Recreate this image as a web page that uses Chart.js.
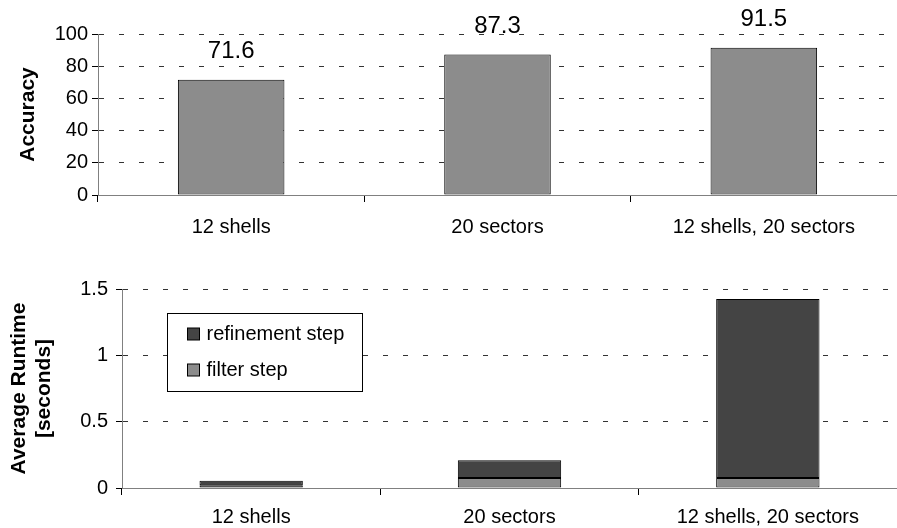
<!DOCTYPE html>
<html>
<head>
<meta charset="utf-8">
<script src="https://cdn.jsdelivr.net/npm/chart.js@4.4.0/dist/chart.umd.min.js"></script>
<style>
    html, body { margin: 0; padding: 0; background: #fff; }
    .panel { position: absolute; left: 0; width: 897px; }
    #accuracyBox { top: 0; height: 250px; }
    #runtimeBox { top: 250px; height: 278px; }
</style>
</head>
<body>
<div class="panel" id="accuracyBox"><canvas id="accuracy"></canvas></div>
<div class="panel" id="runtimeBox"><canvas id="runtime"></canvas></div>
<script>
const categories = ['12 shells', '20 sectors', '12 shells, 20 sectors']
const accuracy = [71.6, 87.3, 91.5]
const filterStep = [0.02, 0.075, 0.075]
const refinementStep = [0.035, 0.135, 1.35]
const accuracyTicks = [0, 20, 40, 60, 80, 100]
const runtimeTicks = [0, 0.5, 1, 1.5]

const FONT = "'Liberation Sans', Arial, sans-serif"
Chart.defaults.font.family = FONT
Chart.defaults.font.size = 20
Chart.defaults.color = '#000'

// number written above each accuracy bar
const valueLabels = {
    id: 'valueLabels',
    afterDatasetsDraw(chart) {
        const ctx = chart.ctx
        const ds = chart.data.datasets[0]
        ctx.save()
        ctx.font = '24px ' + FONT
        ctx.fillStyle = '#000'
        ctx.textAlign = 'center'
        ctx.textBaseline = 'middle'
        chart.getDatasetMeta(0).data.forEach((bar, i) => {
            ctx.fillText(ds.data[i], bar.x, bar.y - 28)
        })
        ctx.restore()
    }
}

// boxed legend sitting inside the plot area
const boxLegend = {
    id: 'boxLegend',
    afterDatasetsDraw(chart) {
        const {ctx, chartArea} = chart
        const x = Math.round(chartArea.left + 45) + 0.5
        const y = Math.round(chartArea.top + 24) + 0.5
        ctx.save()
        ctx.fillStyle = '#fff'
        ctx.fillRect(x, y, 195, 78)
        ctx.strokeStyle = '#000'
        ctx.lineWidth = 1
        ctx.strokeRect(x, y, 195, 78)
        ctx.font = '20px ' + FONT
        ctx.textAlign = 'left'
        ctx.textBaseline = 'middle'
        chart.data.datasets.slice().reverse().forEach((ds, i) => {
            const cy = Math.round(y + 20 + i * 36)
            ctx.fillStyle = ds.backgroundColor
            ctx.fillRect(x + 20, cy - 6, 12, 12)
            ctx.strokeRect(x + 20, cy - 6, 12, 12)
            ctx.fillStyle = '#000'
            ctx.fillText(ds.label, x + 39, cy)
        })
        ctx.restore()
    }
}

function valueAxis(ticks, width, tickPad, title, titlePad) {
    return {
        min: ticks[0],
        max: ticks[ticks.length - 1],
        stacked: true,
        afterBuildTicks: axis => { axis.ticks = ticks.map(v => ({ value: v })) },
        afterFit: axis => { axis.width = width },
        border: { color: '#808080', dash: [5, 15] },
        grid: {
            color: c => (c.tick && c.tick.value === 0) ? 'rgba(0,0,0,0)' : '#333',
            tickColor: '#000',
            tickLength: 6,
            tickBorderDash: []
        },
        ticks: { padding: tickPad, callback: v => String(v) },
        title: {
            display: true,
            text: title,
            font: { size: 21, weight: 'bold', lineHeight: '25px' },
            padding: { top: titlePad, bottom: 0 }
        }
    }
}

function categoryAxis(height, labelPad) {
    return {
        stacked: true,
        afterFit: axis => { axis.height = height },
        border: { color: '#808080' },
        grid: { drawOnChartArea: false, color: '#000', tickColor: '#000', tickLength: 7 },
        ticks: { padding: labelPad, maxRotation: 0, autoSkip: false }
    }
}

new Chart(document.getElementById('accuracy'), {
    type: 'bar',
    data: {
        labels: categories,
        datasets: [{
            label: 'Accuracy',
            data: accuracy,
            backgroundColor: '#8c8c8c',
            borderColor: '#000',
            borderWidth: 1,
            borderSkipped: false,
            categoryPercentage: 1,
            barPercentage: 0.4
        }]
    },
    plugins: [valueLabels],
    options: {
        responsive: true,
        maintainAspectRatio: false,
        animation: false,
        layout: { padding: { top: 34, left: 0, right: 0, bottom: 0 } },
        plugins: { legend: { display: false }, tooltip: { enabled: false } },
        scales: {
            x: categoryAxis(55, 13),
            y: valueAxis(accuracyTicks, 98, 4, 'Accuracy', 16)
        }
    }
})

new Chart(document.getElementById('runtime'), {
    type: 'bar',
    data: {
        labels: categories,
        datasets: [{
            label: 'filter step',
            data: filterStep,
            backgroundColor: '#8c8c8c',
            borderColor: '#000',
            borderWidth: 1,
            borderSkipped: false,
            categoryPercentage: 1,
            barPercentage: 0.4
        }, {
            label: 'refinement step',
            data: refinementStep,
            backgroundColor: '#444444',
            borderColor: '#000',
            borderWidth: 1,
            borderSkipped: false,
            categoryPercentage: 1,
            barPercentage: 0.4
        }]
    },
    plugins: [boxLegend],
    options: {
        responsive: true,
        maintainAspectRatio: false,
        animation: false,
        layout: { padding: { top: 39, left: 0, right: 0, bottom: 0 } },
        plugins: { legend: { display: false }, tooltip: { enabled: false } },
        scales: {
            x: categoryAxis(40, 10),
            y: valueAxis(runtimeTicks, 122, 8, ['Average Runtime', '[seconds]'], 7)
        }
    }
})
</script>
</body>
</html>
